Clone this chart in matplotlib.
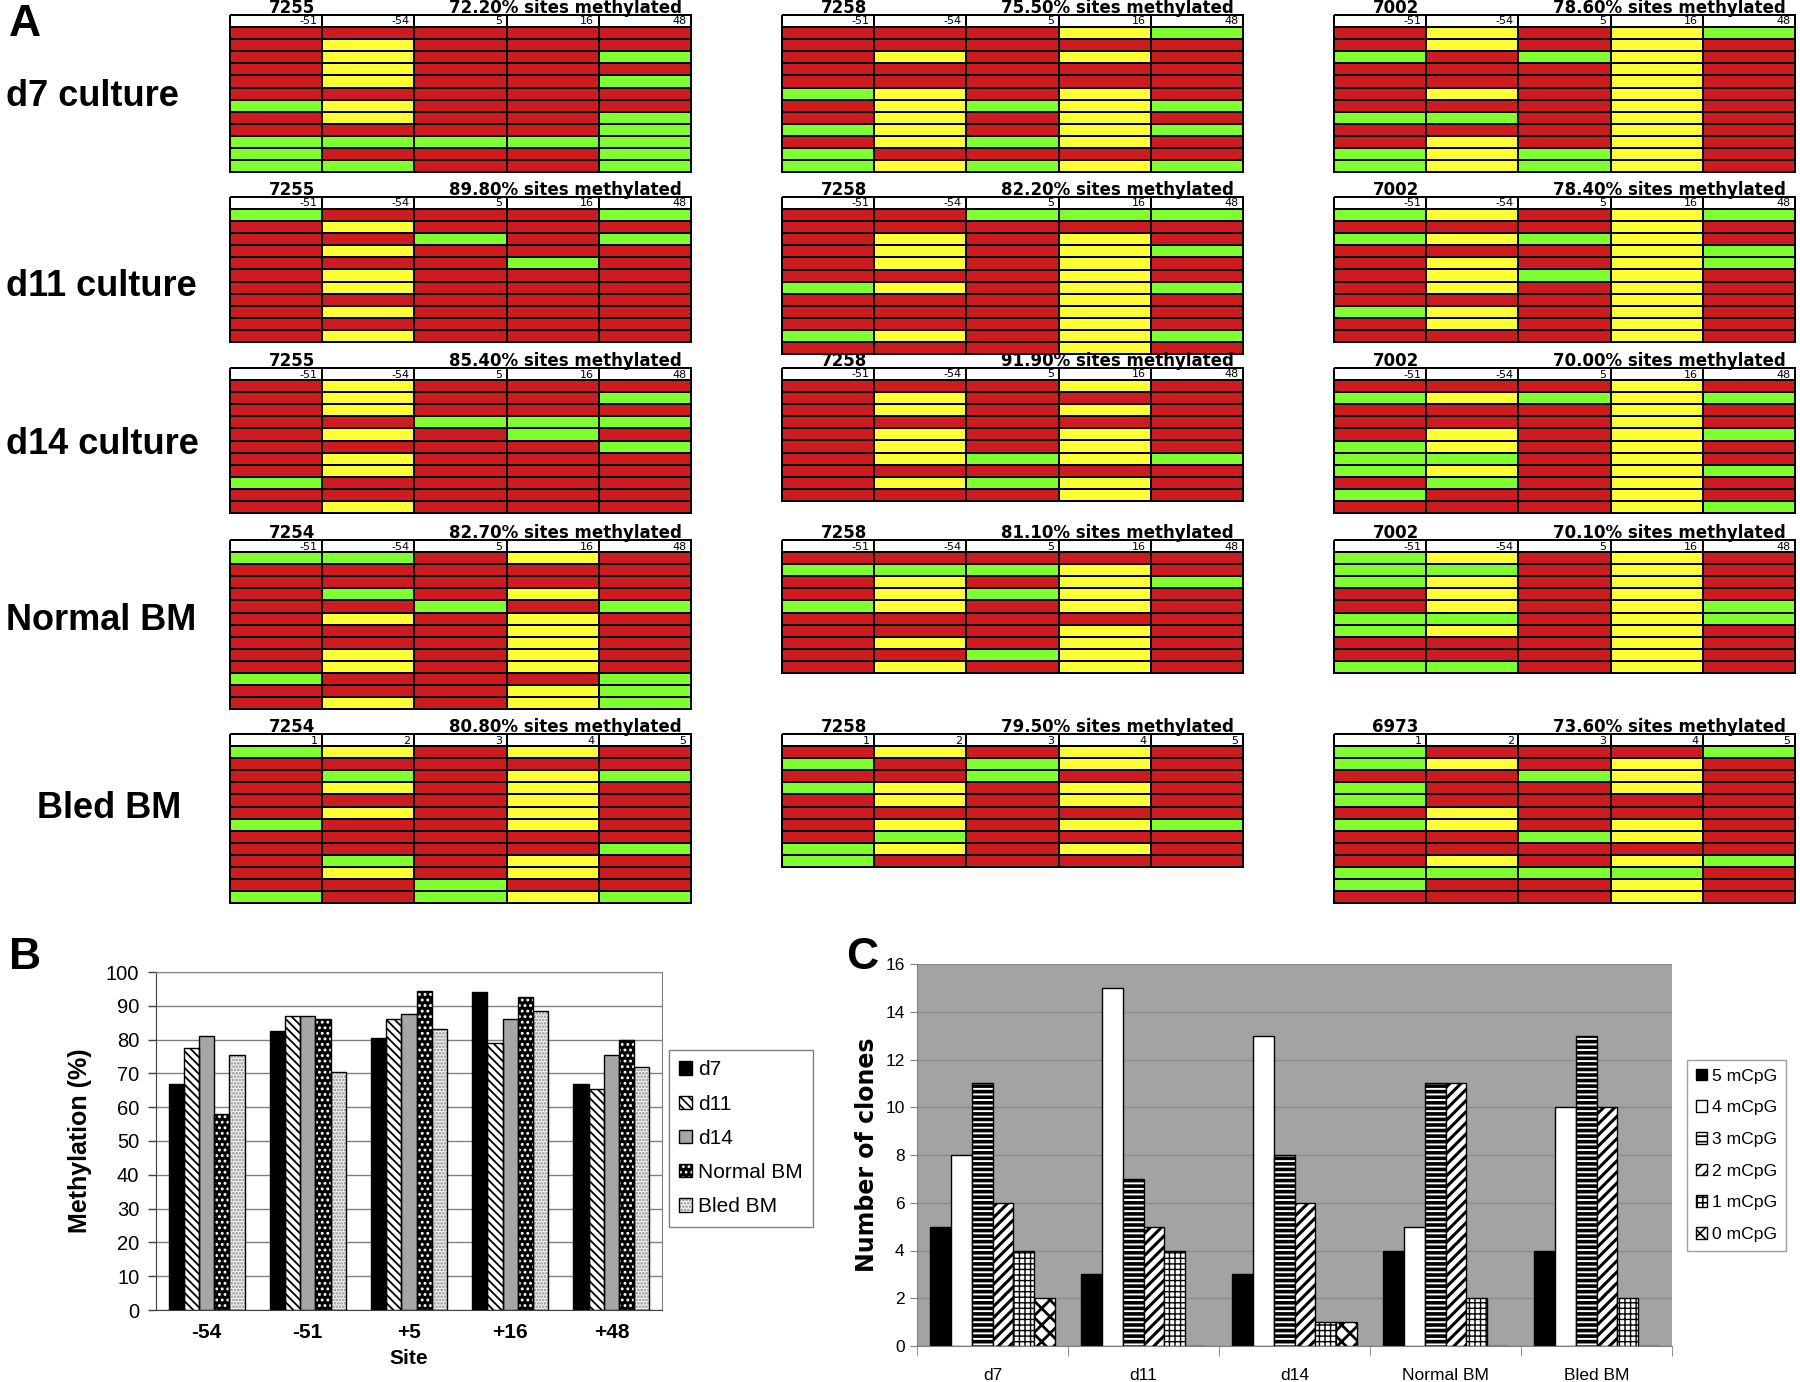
import numpy as np
import matplotlib
matplotlib.use("Agg")
import matplotlib.pyplot as plt
from matplotlib.colors import ListedColormap
from matplotlib.patches import Patch

plt.rcParams['font.family'] = ['Liberation Sans', 'DejaVu Sans']

W, H = 1800, 1382

# ---- panel A: one string per clone, one letter per CpG site (R red, Y yellow, G green)
d7_7255 = ["RRRRR", "RYRRR", "RYRRG", "RYRRR", "RYRRG", "RRRRR", "GYRRR", "RYRRG", "RRRRG", "GGGGG", "GRRRG", "GGRRG"]
d7_7258 = ["RRRYG", "RRRRR", "RYRYR", "RRRRR", "RRRRR", "GYRYR", "RYGYG", "RYRYR", "GYRYG", "RYGYR", "GRRRR", "GYGYG"]
d7_7002 = ["RYRYG", "RYRYR", "GRGYR", "RRRYR", "RRRYR", "RYRYR", "RRRYR", "GGRYR", "RRRYR", "RYRYR", "GYGYR", "GYGYR"]

d11_7255 = ["GRRRG", "RYRRR", "RRGRG", "RYRRR", "RRRGR", "RYRRR", "RYRRR", "RRRRR", "RYRRR", "RRRRR", "RYRRR"]
d11_7258 = ["RRGGG", "RRRRR", "RYRYR", "RYRYG", "RYRYR", "RRRYR", "GYRYG", "RRRYR", "RRRYR", "RRRYR", "GYRYG", "RRRYR"]
d11_7002 = ["GYRYG", "RRRYR", "GYGYR", "RRRYG", "RYRYG", "RYGYR", "RYRYR", "RRRYR", "GYRYR", "RYRYR", "RRRYR"]

d14_7255 = ["RYRRR", "RYRRG", "RYRRR", "RRGGG", "RYRGR", "RRRRG", "RYRRR", "RYRRR", "GRRRR", "RRRRR", "RYRRR"]
d14_7258 = ["RRRYR", "RYRRR", "RYRYR", "RRRRR", "RYRYR", "RYRYR", "RYGYG", "RRRRR", "RYGYR", "RRRYR"]
d14_7002 = ["RRRYR", "GYGYG", "RRRYR", "RRRYR", "RYRYG", "GYRYR", "GGRYR", "GYRYG", "RGRYR", "GRRYR", "RRRYG"]

nbm_7254 = ["GGRYR", "RRRRR", "RRRRR", "RGRYR", "RRGRG", "RYRYR", "RRRYR", "RRRYR", "RYRYR", "RYRYR", "GRRRG", "RRRYG", "RYRYG"]
nbm_7258 = ["RRRRR", "GGGYR", "RYRYG", "RYGYR", "GYRYR", "RRRRR", "RRRYR", "RYRYR", "RRGYR", "RYRYR"]
nbm_7002 = ["GYRYR", "GGRYR", "GYRYR", "RYRYR", "RYRYG", "GGRYG", "GYRYR", "RRRYR", "RRRYR", "GGRYR"]

bbm_7254 = ["GYRYR", "RRRRR", "RGRYG", "RYRYR", "RRRYR", "RYRYR", "GRRYR", "RRRRR", "RRRRG", "RGRYR", "RYRYR", "RRGRR", "GRGYG"]
bbm_7258 = ["RYRYR", "GRGYR", "RRGRR", "GYRYR", "RYRYR", "RRRRR", "RYRYG", "RGRRR", "GYRYR", "GRRRR"]
bbm_6973 = ["GRRRG", "GYRYR", "RRGYR", "GRRYR", "GRRRR", "RYRRR", "GYRYR", "RRGYR", "RRRRR", "RYRYG", "GGGGR", "GRRYR", "RRRYR"]

row_labels = ["d7 culture", "d11 culture", "d14 culture", "Normal BM", "Bled BM"]
sample_ids = [["7255", "7258", "7002"], ["7255", "7258", "7002"], ["7255", "7258", "7002"],
              ["7254", "7258", "7002"], ["7254", "7258", "6973"]]
pct_methylated = [["72.20", "75.50", "78.60"], ["89.80", "82.20", "78.40"], ["85.40", "91.90", "70.00"],
                  ["82.70", "81.10", "70.10"], ["80.80", "79.50", "73.60"]]
site_labels = ["-51", "-54", "5", "16", "48"]
site_labels_bled = ["1", "2", "3", "4", "5"]

# ---- panel B: methylation (%) per site
sites = ["-54", "-51", "+5", "+16", "+48"]
b_d7 = [67, 82.5, 80.5, 94, 67]
b_d11 = [77.5, 87, 86, 79, 65.5]
b_d14 = [81, 87, 87.5, 86, 75.5]
b_nbm = [58, 86, 94.5, 92.5, 80]
b_bbm = [75.5, 70.5, 83, 88.5, 72]

# ---- panel C: number of clones by methylated CpG count
c_groups = ["d7", "d11", "d14", "Normal BM", "Bled BM"]
c_5 = [5, 3, 3, 4, 4]
c_4 = [8, 15, 13, 5, 10]
c_3 = [11, 7, 8, 11, 13]
c_2 = [6, 5, 6, 11, 10]
c_1 = [4, 4, 1, 2, 2]
c_0 = [2, 0, 1, 0, 0]

fig = plt.figure(figsize=(18, 13.82), dpi=100)


def px_axes(x, y, w, h):
    return fig.add_axes([x / W, 1 - (y + h) / H, w / W, h / H])


def hatch_lw(bars, lw):
    for b in bars:
        if hasattr(b, 'set_hatch_linewidth'):
            b.set_hatch_linewidth(lw)


# ================= panel A =================
cell_cmap = ListedColormap(['#CD1B1F', '#FFFF33', '#80FF2E', 'white'])
code = {'R': 0, 'Y': 1, 'G': 2}
grids = [[d7_7255, d7_7258, d7_7002], [d11_7255, d11_7258, d11_7002], [d14_7255, d14_7258, d14_7002],
         [nbm_7254, nbm_7258, nbm_7002], [bbm_7254, bbm_7258, bbm_6973]]
grid_x = [230, 782, 1334]
grid_w = 461
hdr_top = [15, 197, 368, 540, 734]
HDR_H, ROW_H = 12, 12.1
label_y = [97, 287, 445, 620, 809]
label_x = [6, 6, 6, 6, 37]

for r in range(5):
    fig.text(label_x[r] / W, 1 - label_y[r] / H, row_labels[r], ha='left', va='center',
             fontsize=26, weight='bold')
    labs = site_labels_bled if r == 4 else site_labels
    for c in range(3):
        rows = grids[r][c]
        n = len(rows)
        vals = np.array([[3] * 5] + [[code[ch] for ch in row] for row in rows])
        yedges = np.concatenate([[0, HDR_H], HDR_H + ROW_H * np.arange(1, n + 1)])
        ax = px_axes(grid_x[c], hdr_top[r], grid_w, yedges[-1])
        mesh = ax.pcolormesh(np.arange(6), yedges, vals, cmap=cell_cmap, vmin=-0.5, vmax=3.5,
                             edgecolors='black', linewidth=1.2)
        mesh.set_clip_on(False)
        ax.set_xlim(0, 5)
        ax.set_ylim(yedges[-1], 0)
        ax.axis('off')
        for j, lab in enumerate(labs):
            ax.text(j + 0.95, HDR_H / 2 + 0.5, lab, ha='right', va='center', fontsize=8,
                    family='DejaVu Sans')
        ax.text(0.92, -2, sample_ids[r][c], ha='right', va='baseline', fontsize=12,
                weight='bold', family='DejaVu Sans')
        ax.text(4.9, -2, pct_methylated[r][c] + "% sites methylated", ha='right', va='baseline',
                fontsize=12, weight='bold', family='DejaVu Sans')

fig.text(9 / W, 1 - 4 / H, "A", ha='left', va='top', fontsize=32, weight='bold')
fig.text(9 / W, 1 - 937 / H, "B", ha='left', va='top', fontsize=32, weight='bold')
fig.text(846 / W, 1 - 937 / H, "C", ha='left', va='top', fontsize=32, weight='bold')

# ================= panel B =================
plt.rcParams['hatch.linewidth'] = 1.2
axB = px_axes(156, 972, 506, 338)
x = np.arange(len(sites))
bw = 0.15
b_series = [b_d7, b_d11, b_d14, b_nbm, b_bbm]
b_names = ["d7", "d11", "d14", "Normal BM", "Bled BM"]
b_face = ['black', 'white', '#A6A6A6', 'black', '#F4F4F4']
b_hcol = ['black', 'black', 'black', 'white', '#8C8C8C']
b_hatch = [None, '\\\\\\\\', None, '...', '.....']
b_handles = []
for k, vals in enumerate(b_series):
    xs = x + (k - 2) * bw
    fill = axB.bar(xs, vals, bw, color=b_face[k], edgecolor=b_hcol[k], hatch=b_hatch[k],
                   linewidth=0, zorder=2)
    hatch_lw(fill, 1.3)
    axB.bar(xs, vals, bw, fill=False, edgecolor='black', linewidth=1, zorder=3)
    b_handles.append((Patch(facecolor=b_face[k], edgecolor=b_hcol[k], hatch=b_hatch[k], linewidth=0),
                      Patch(fill=False, edgecolor='black', linewidth=1)))
axB.set_xlim(-0.5, 4.5)
axB.set_ylim(0, 100)
axB.set_yticks(np.arange(0, 101, 10))
axB.set_xticks(x)
axB.set_xticklabels(sites, fontsize=15, weight='bold')
axB.tick_params(axis='x', length=0, pad=9)
axB.tick_params(axis='y', direction='out', length=6, width=1, color='#404040', labelsize=14.5, pad=6)
axB.yaxis.grid(True, color='#808080', linewidth=1)
axB.set_axisbelow(True)
for s in ['top', 'right']:
    axB.spines[s].set_color('#808080')
for s in ['left', 'bottom']:
    axB.spines[s].set_color('#404040')
fig.text(80 / W, 1 - 1141 / H, "Methylation (%)", rotation=90, ha='center', va='center',
         fontsize=18, weight='bold')
fig.text(409 / W, 1 - 1358 / H, "Site", ha='center', va='center', fontsize=15, weight='bold')
axB.legend(b_handles, b_names, loc='upper left', bbox_to_anchor=(669 / W, 1 - 1050 / H),
           bbox_transform=fig.transFigure, fontsize=15, frameon=True, fancybox=False,
           edgecolor='#808080', framealpha=1, borderpad=0.5, labelspacing=0.73,
           handlelength=0.6, handleheight=0.6, handletextpad=0.3, borderaxespad=0)

# ================= panel C =================
axC = px_axes(917, 964, 755, 382)
axC.set_facecolor('#A3A3A3')
xc = np.arange(len(c_groups))
cw = 0.139
c_series = [c_5, c_4, c_3, c_2, c_1, c_0]
c_names = ["5 mCpG", "4 mCpG", "3 mCpG", "2 mCpG", "1 mCpG", "0 mCpG"]
c_face = ['black', 'white', 'white', 'white', 'white', 'white']
c_hatch = [None, None, '---', '///', '+++', 'xx']
c_hlw = [1, 1, 2.6, 2.2, 1.0, 2.0]
c_handles = []
for k, vals in enumerate(c_series):
    bars = axC.bar(xc + (k - 2.5) * cw, vals, cw, color=c_face[k], edgecolor='black',
                   hatch=c_hatch[k], linewidth=1, zorder=2)
    hatch_lw(bars, c_hlw[k])
    c_handles.append(Patch(facecolor=c_face[k], edgecolor='black', hatch=c_hatch[k], linewidth=1))
axC.set_xlim(-0.5, 4.5)
axC.set_ylim(0, 16)
axC.set_yticks(np.arange(0, 17, 2))
axC.set_xticks(xc)
axC.set_xticklabels(c_groups, fontsize=12.5)
axC.set_xticks(np.arange(-0.5, 5, 1), minor=True)
axC.tick_params(axis='x', which='major', length=0, pad=16)
axC.tick_params(axis='x', which='minor', length=7, color='#808080')
axC.tick_params(axis='y', direction='out', length=5, color='#808080', labelsize=12.5, pad=4)
axC.yaxis.grid(True, color='#8A8A8A', linewidth=1)
axC.set_axisbelow(True)
for s in ['top', 'right']:
    axC.spines[s].set_visible(False)
for s in ['left', 'bottom']:
    axC.spines[s].set_color('#808080')
fig.text(867 / W, 1 - 1155 / H, "Number of clones", rotation=90, ha='center', va='center',
         fontsize=17, weight='bold', family='DejaVu Sans')
axC.legend(c_handles, c_names, loc='upper left', bbox_to_anchor=(1687 / W, 1 - 1060 / H),
           bbox_transform=fig.transFigure, fontsize=12.6, frameon=True, fancybox=False,
           edgecolor='#A0A0A0', framealpha=1, borderpad=0.5, labelspacing=0.95,
           handlelength=0.65, handleheight=0.65, handletextpad=0.3, borderaxespad=0)

fig.savefig("out.png", dpi=100)
